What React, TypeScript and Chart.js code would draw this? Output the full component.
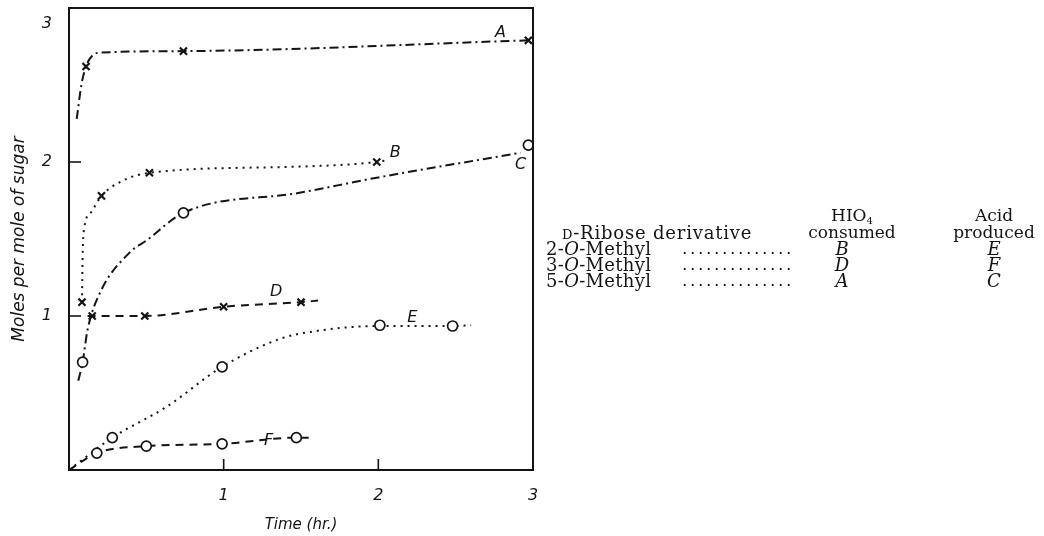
import React, { useEffect, useRef } from "react";
import { Chart, registerables } from "chart.js";
Chart.register(...registerables);

// ---- data (time in hr, moles per mole of sugar) ----
const aCurveX = [0.05, 0.08, 0.11, 0.15, 0.2, 0.74, 2.97];
const aCurveY = [2.28, 2.5, 2.62, 2.69, 2.71, 2.72, 2.79];
const aMarkX = [0.11, 0.74, 2.97];
const aMarkY = [2.62, 2.72, 2.79];

const bCurveX = [0.084, 0.088, 0.1, 0.14, 0.21, 0.33, 0.52, 1.49, 1.99, 2.05];
const bCurveY = [1.09, 1.38, 1.58, 1.67, 1.78, 1.87, 1.93, 1.97, 2.0, 2.01];
const bMarkX = [0.084, 0.21, 0.52, 1.99];
const bMarkY = [1.09, 1.78, 1.93, 2.0];

const cCurveX = [0.06, 0.088, 0.12, 0.2, 0.39, 0.5, 0.74, 1.49, 2.0, 2.92];
const cCurveY = [0.58, 0.7, 0.91, 1.15, 1.41, 1.49, 1.67, 1.8, 1.9, 2.06];
const cMarkX = [0.088, 0.74, 2.97];
const cMarkY = [0.7, 1.67, 2.11];

const dCurveX = [0.12, 0.15, 0.49, 1.0, 1.5, 1.61];
const dCurveY = [1.0, 1.0, 1.0, 1.06, 1.09, 1.1];
const dMarkX = [0.15, 0.49, 1.0, 1.5];
const dMarkY = [1.0, 1.0, 1.06, 1.09];

const eCurveX = [0, 0.28, 0.63, 0.99, 1.36, 1.58, 2.01, 2.48, 2.6];
const eCurveY = [0, 0.21, 0.41, 0.67, 0.85, 0.9, 0.935, 0.935, 0.94];
const eMarkX = [0.28, 0.99, 2.01, 2.48];
const eMarkY = [0.21, 0.67, 0.94, 0.935];

const fCurveX = [0, 0.18, 0.5, 0.99, 1.47, 1.55];
const fCurveY = [0, 0.11, 0.155, 0.17, 0.21, 0.21];
const fMarkX = [0.18, 0.5, 0.99, 1.47];
const fMarkY = [0.11, 0.155, 0.17, 0.21];

const curveLabels = ["A", "B", "C", "D", "E", "F"];
const curveLabelX = [2.79, 2.11, 2.92, 1.34, 2.22, 1.29];
const curveLabelY = [2.84, 2.06, 1.98, 1.16, 0.99, 0.19];

const xTickLabels = ["1", "2", "3"];
const yTickLabels = ["1", "2", "3"];
const innerTicksX = [1, 2];
const innerTicksY = [1, 2];

const xTitle = "Time (hr.)";
const yTitle = "Moles per mole of sugar";

const tableDerivatives = ["2-", "3-", "5-"];
const tableHIO4 = ["B", "D", "A"];
const tableAcid = ["E", "F", "C"];

const INK = "#141414";
const SANS = "'DejaVu Sans', 'Open Sans', sans-serif";
const SERIF = "'DejaVu Serif', 'Liberation Serif', serif";

const pts = (xs: number[], ys: number[]) => xs.map((x, i) => ({ x, y: ys[i] }));

const DASHDOT = [9, 4, 2, 4];
const DOTTED = [2, 5];
const DASHED = [8, 6];

function curve(xs: number[], ys: number[], dash: number[]) {
  return {
    data: pts(xs, ys),
    showLine: true,
    borderColor: INK,
    borderWidth: 2,
    borderDash: dash,
    pointRadius: 0,
    cubicInterpolationMode: "monotone" as const,
    fill: false,
    order: 2,
  };
}
function marks(xs: number[], ys: number[], kind: "x" | "o") {
  return {
    data: pts(xs, ys),
    showLine: false,
    pointStyle: kind === "x" ? "crossRot" : "circle",
    pointRadius: 5,
    pointBorderWidth: kind === "x" ? 2.2 : 1.7,
    pointBorderColor: INK,
    pointBackgroundColor: "#ffffff",
    borderColor: INK,
    order: 1,
  };
}

const framePlugin = {
  id: "frame",
  afterDatasetsDraw(chart: any) {
    const { ctx, chartArea } = chart;
    const xs = chart.scales.x;
    const ys = chart.scales.y;
    ctx.save();
    ctx.strokeStyle = INK;
    ctx.lineWidth = 2;
    ctx.setLineDash([]);
    ctx.strokeRect(chartArea.left, chartArea.top, chartArea.right - chartArea.left, chartArea.bottom - chartArea.top);
    ctx.lineWidth = 1.6;
    innerTicksX.forEach((v) => {
      const px = xs.getPixelForValue(v);
      ctx.beginPath();
      ctx.moveTo(px, chartArea.bottom);
      ctx.lineTo(px, chartArea.bottom - 11);
      ctx.stroke();
    });
    innerTicksY.forEach((v) => {
      const py = ys.getPixelForValue(v);
      ctx.beginPath();
      ctx.moveTo(chartArea.left, py);
      ctx.lineTo(chartArea.left + 12, py);
      ctx.stroke();
    });
    ctx.fillStyle = INK;
    ctx.font = `oblique 16px ${SANS}`;
    ctx.textAlign = "center";
    ctx.textBaseline = "middle";
    curveLabels.forEach((t, i) => {
      ctx.fillText(t, xs.getPixelForValue(curveLabelX[i]), ys.getPixelForValue(curveLabelY[i]));
    });
    ctx.restore();
  },
};

function ChartView() {
  const ref = useRef<HTMLCanvasElement | null>(null);
  useEffect(() => {
    if (!ref.current) return;
    const chart = new Chart(ref.current, {
      type: "scatter",
      data: {
        datasets: [
          marks(aMarkX, aMarkY, "x"),
          marks(bMarkX, bMarkY, "x"),
          marks(cMarkX, cMarkY, "o"),
          marks(dMarkX, dMarkY, "x"),
          marks(eMarkX, eMarkY, "o"),
          marks(fMarkX, fMarkY, "o"),
          curve(aCurveX, aCurveY, DASHDOT),
          curve(bCurveX, bCurveY, DOTTED),
          curve(cCurveX, cCurveY, DASHDOT),
          curve(dCurveX, dCurveY, DASHED),
          curve(eCurveX, eCurveY, DOTTED),
          curve(fCurveX, fCurveY, DASHED),
        ] as any,
      },
      options: {
        animation: false,
        responsive: false,
        events: [],
        layout: { padding: { left: 0, top: 8, right: 511, bottom: 0 } },
        plugins: { legend: { display: false }, tooltip: { enabled: false } },
        scales: {
          x: {
            type: "linear",
            min: 0,
            max: 3,
            afterFit: (s: any) => {
              s.height = 66;
              s.paddingLeft = 0;
              s.paddingRight = 0;
            },
            grid: { display: false },
            border: { display: false },
            ticks: {
              stepSize: 1,
              color: INK,
              padding: 8,
              font: { family: SANS, size: 16, style: "oblique" },
              callback: (v: any) => (v >= 1 ? xTickLabels[v - 1] : ""),
              maxRotation: 0,
            },
            title: {
              display: true,
              text: xTitle,
              color: INK,
              font: { family: SANS, size: 15, style: "oblique" },
              padding: { top: 0, bottom: 2 },
            },
          },
          y: {
            type: "linear",
            min: 0,
            max: 3,
            afterFit: (s: any) => {
              s.width = 69;
              s.paddingTop = 0;
              s.paddingBottom = 0;
            },
            grid: { display: false },
            border: { display: false },
            ticks: {
              stepSize: 1,
              color: INK,
              padding: 9,
              font: { family: SANS, size: 16, style: "oblique", lineHeight: 2 },
              // the top label sits a little below the frame corner, as in the original
              callback: (v: any) => (v >= 3 ? ["", yTickLabels[v - 1]] : v >= 1 ? yTickLabels[v - 1] : ""),
            },
            title: {
              display: true,
              text: yTitle,
              color: INK,
              font: { family: SANS, size: 17, style: "oblique" },
              padding: { top: 9, bottom: 0 },
            },
          },
        },
      } as any,
      plugins: [framePlugin],
    });
    return () => chart.destroy();
  }, []);
  return <canvas ref={ref} width={1044} height={536} style={{ display: "block" }} />;
}

const LH = 17;
const cell = (left: number, centerY: number, extra: React.CSSProperties = {}): React.CSSProperties => ({
  position: "absolute",
  left,
  top: centerY - LH / 2,
  lineHeight: `${LH}px`,
  whiteSpace: "nowrap",
  ...extra,
});

function Table() {
  const rowCenters = [248, 264, 280];
  const col2 = 852;
  const col3 = 994;
  const w = 110;
  const base: React.CSSProperties = {
    position: "absolute",
    left: 0,
    top: 0,
    width: 1044,
    height: 536,
    fontFamily: SERIF,
    fontSize: 17,
    color: INK,
    pointerEvents: "none",
  };
  return (
    <div style={base}>
      <div style={cell(col2 - w / 2, 215, { width: w, textAlign: "center" })}>
        HIO<sub style={{ fontSize: 10, verticalAlign: "-3px" }}>4</sub>
      </div>
      <div style={cell(col2 - w / 2, 232, { width: w, textAlign: "center" })}>consumed</div>
      <div style={cell(col3 - w / 2, 215, { width: w, textAlign: "center" })}>Acid</div>
      <div style={cell(col3 - w / 2, 232, { width: w, textAlign: "center" })}>produced</div>
      <div style={cell(562, 232, { fontSize: 18, letterSpacing: "0.8px" })}>
        <span style={{ fontVariant: "small-caps" }}>d</span>-Ribose derivative
      </div>
      {tableDerivatives.map((d, i) => (
        <React.Fragment key={d}>
          <div style={cell(546, rowCenters[i], { fontSize: 18, letterSpacing: "0.3px" })}>
            {d}
            <i>O</i>-Methyl
          </div>
          <div style={cell(682, rowCenters[i], { letterSpacing: "2.6px" })}>..............</div>
          <div style={cell(col2 - 10 - w / 2, rowCenters[i], { width: w, textAlign: "center", fontStyle: "italic", fontSize: 18 })}>{tableHIO4[i]}</div>
          <div style={cell(col3 - w / 2, rowCenters[i], { width: w, textAlign: "center", fontStyle: "italic", fontSize: 18 })}>{tableAcid[i]}</div>
        </React.Fragment>
      ))}
    </div>
  );
}

export default function App() {
  return (
    <div style={{ position: "absolute", left: 0, top: 0, width: 1044, height: 536, background: "#fff" }}>
      <ChartView />
      <Table />
    </div>
  );
}
